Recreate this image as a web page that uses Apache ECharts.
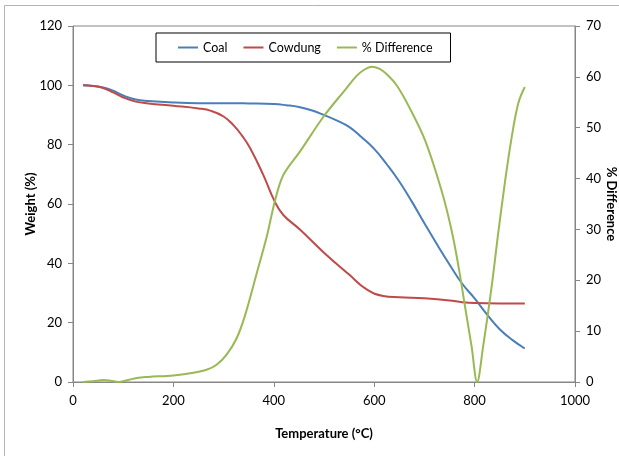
<!DOCTYPE html>
<html>
<head>
<meta charset="utf-8">
<script src="https://cdn.jsdelivr.net/npm/echarts@6/dist/echarts.min.js"></script>
<style>html,body{margin:0;padding:0;background:#fff;}#c{width:619px;height:456px;}</style>
</head>
<body>
<div id="c"></div>
<script>
// Temperature (°C) and weight (%)
var coalTemp   = [20,40,60,80,100,125,150,200,250,300,350,400,425,450,475,500,525,550,575,600,625,650,675,700,725,750,775,800,825,850,875,900];
var coalWeight = [100,99.8,99.3,98.2,96.6,95.2,94.7,94.2,94.0,94.0,93.9,93.7,93.3,92.7,91.6,90.0,88.2,86.0,82.5,78.6,73.4,67.6,60.8,53.5,46.4,39.6,33.2,28.2,22.7,17.8,14.2,11.3];

var cowTemp   = [20,40,60,80,100,125,150,200,250,275,300,320,336,353,379,402,419,452,500,550,585,618,650,700,750,775,800,850,900];
var cowWeight = [100,99.8,99.1,97.6,95.9,94.5,93.9,93.1,92.2,91.4,89.5,86.5,83.2,78.8,69.8,60.8,56.3,51.4,43.6,36.2,31.2,29.0,28.6,28.2,27.5,26.9,26.6,26.5,26.5];

var diffTemp  = [20,40,60,75,90,110,127,150,200,240,266,286,306,326,343,366,386,402,419,452,500,545,565,580,595,610,625,645,670,701,734,754,768,781,794,805,817,834,847,861,874,887,900];
var diffValue = [0,0.15,0.4,0.25,0,0.4,0.8,1.0,1.3,1.8,2.4,3.4,5.4,8.6,13.2,21.4,28.6,35.5,40.7,45.3,52.3,57.8,60.2,61.4,62.0,61.6,60.5,58.3,54.0,47.6,37.7,29.9,22.7,14.8,7.0,0,7.0,18.8,29.2,39.7,48.2,54.8,58.0];

var seriesNames = ['Coal','Cowdung','% Difference'];
var xTicks = {min:0, max:1000, interval:200};
var yLeftTicks = {min:0, max:120, interval:20};
var yRightTicks = {min:0, max:70, interval:10};

function pairs(xs, ys){ return xs.map(function(x,i){ return [x, ys[i]]; }); }

var FONT = 'Lato, "Open Sans", sans-serif';
var axisGray = '#868686';
var plain = function(v){ return String(v); };

var chart = echarts.init(document.getElementById('c'), null, {renderer:'canvas'});
chart.setOption({
  animation:false,
  backgroundColor:'#fff',
  textStyle:{fontFamily:FONT},
  graphic:[{type:'rect', shape:{x:4.5,y:5.5,width:700,height:600}, style:{fill:'none', stroke:'#b3b3b3', lineWidth:1}, z:-10}],
  grid:{left:73, right:44, top:26, bottom:74, show:true, borderColor:axisGray, borderWidth:1, backgroundColor:'transparent', containLabel:false, outerBoundsMode:'none'},
  legend:{
    data:seriesNames.map(function(n){ return {name:n, icon:'rect'}; }),
    left:156, top:33,
    borderColor:'#000', borderWidth:1, padding:[8,18,8,22], itemGap:16,
    itemWidth:20, itemHeight:2,
    textStyle:{fontFamily:FONT, fontSize:12.5, color:'#000'}
  },
  xAxis:{
    type:'value', min:xTicks.min, max:xTicks.max, interval:xTicks.interval,
    name:'Temperature (°C)', nameLocation:'middle', nameGap:45, nameMoveOverlap:false,
    nameTextStyle:{fontFamily:FONT, fontSize:13, fontWeight:'bold', color:'#000'},
    axisLine:{show:true, lineStyle:{color:axisGray}},
    axisTick:{show:true, length:5, inside:false, lineStyle:{color:axisGray}},
    axisLabel:{fontFamily:FONT, fontSize:13, color:'#000', margin:12, formatter:plain},
    splitLine:{show:false}
  },
  yAxis:[{
    type:'value', position:'left', min:yLeftTicks.min, max:yLeftTicks.max, interval:yLeftTicks.interval,
    name:'Weight (%)', nameLocation:'middle', nameGap:36, nameRotate:90, nameMoveOverlap:false,
    nameTextStyle:{fontFamily:FONT, fontSize:13, fontWeight:'bold', color:'#000'},
    axisLine:{show:true, lineStyle:{color:axisGray}},
    axisTick:{show:true, length:5, lineStyle:{color:axisGray}},
    axisLabel:{fontFamily:FONT, fontSize:13, color:'#000', margin:11, formatter:plain},
    splitLine:{show:false}
  },{
    type:'value', position:'right', min:yRightTicks.min, max:yRightTicks.max, interval:yRightTicks.interval,
    name:'% Difference', nameLocation:'middle', nameGap:30, nameRotate:-90, nameMoveOverlap:false,
    nameTextStyle:{fontFamily:FONT, fontSize:13, fontWeight:'bold', color:'#000'},
    axisLine:{show:true, lineStyle:{color:axisGray}},
    axisTick:{show:true, length:5, lineStyle:{color:axisGray}},
    axisLabel:{fontFamily:FONT, fontSize:13, color:'#000', margin:11, formatter:plain},
    splitLine:{show:false}
  }],
  series:[
    {name:seriesNames[0], type:'line', yAxisIndex:0, data:pairs(coalTemp, coalWeight), smooth:0.45, symbol:'none', lineStyle:{color:'#4A7EBB', width:2}, itemStyle:{color:'#4A7EBB'}},
    {name:seriesNames[1], type:'line', yAxisIndex:0, data:pairs(cowTemp, cowWeight), smooth:0.45, symbol:'none', lineStyle:{color:'#BE4B48', width:2}, itemStyle:{color:'#BE4B48'}},
    {name:seriesNames[2], type:'line', yAxisIndex:1, data:pairs(diffTemp, diffValue), smooth:0.35, symbol:'none', lineStyle:{color:'#98B954', width:2}, itemStyle:{color:'#98B954'}}
  ]
});
</script>
</body>
</html>
